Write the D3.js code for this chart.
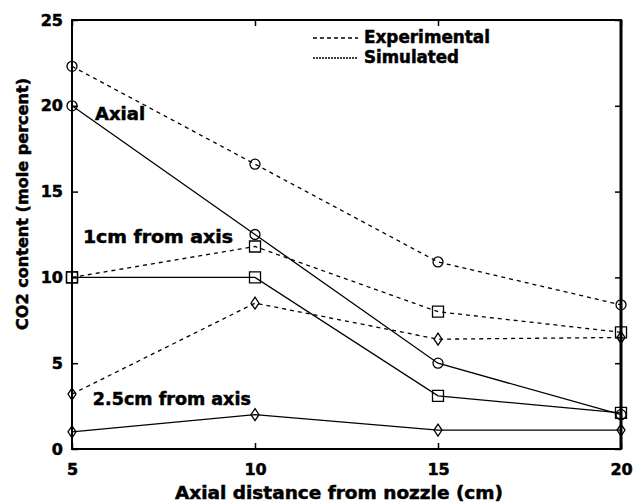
<!DOCTYPE html>
<html>
<head>
<meta charset="utf-8">
<script src="https://cdn.jsdelivr.net/npm/d3@7"></script>
<style>
  html, body { margin: 0; padding: 0; background: #fff; }
  svg text { font-family: "DejaVu Sans", "Liberation Sans", Arial, sans-serif; font-weight: bold; fill: #000; stroke: #000; stroke-width: 0.5px; }
</style>
</head>
<body>
<svg id="chart" width="635" height="504"></svg>
<script>
// Axial positions (cm from nozzle)
const distances = [5, 10, 15, 20];

// CO2 content (mole percent) at each distance
const axialExperimental = [22.3, 16.6, 10.9, 8.4];
const axialSimulated    = [20.0, 12.5, 5.0, 2.0];
const oneCmExperimental = [10.0, 11.8, 8.0, 6.8];
const oneCmSimulated    = [10.0, 10.0, 3.1, 2.1];
const twoHalfCmExperimental = [3.2, 8.5, 6.4, 6.5];
const twoHalfCmSimulated    = [1.0, 2.0, 1.1, 1.1];

const xTicks = [5, 10, 15, 20];
const yTicks = [0, 5, 10, 15, 20, 25];

const series = [
  { values: axialExperimental,     marker: "circle",  dashed: true },
  { values: axialSimulated,        marker: "circle",  dashed: false },
  { values: oneCmExperimental,     marker: "square",  dashed: true },
  { values: oneCmSimulated,        marker: "square",  dashed: false },
  { values: twoHalfCmExperimental, marker: "diamond", dashed: true },
  { values: twoHalfCmSimulated,    marker: "diamond", dashed: false }
];

const width = 635, height = 504;
const margin = { top: 20, right: 14, bottom: 55, left: 72 };

const svg = d3.select("#chart");

const x = d3.scaleLinear().domain([5, 20]).range([margin.left, width - margin.right]);
const y = d3.scaleLinear().domain([0, 25]).range([height - margin.bottom, margin.top]);

const plotW = width - margin.left - margin.right;
const plotH = height - margin.top - margin.bottom;
const tickLen = 6;

// Inward ticks on all four sides
const axisBottom = d3.axisBottom(x).tickValues(xTicks).tickSizeInner(-tickLen).tickSizeOuter(0).tickPadding(15);
const axisTop = d3.axisTop(x).tickValues(xTicks).tickSizeInner(-tickLen).tickSizeOuter(0).tickFormat("");
const axisLeft = d3.axisLeft(y).tickValues(yTicks).tickSizeInner(-tickLen).tickSizeOuter(0).tickPadding(9);
const axisRight = d3.axisRight(y).tickValues(yTicks).tickSizeInner(-tickLen).tickSizeOuter(0).tickFormat("");

function styleAxis(g) {
  g.select(".domain").remove();
  g.selectAll(".tick line").attr("stroke", "#000").attr("stroke-width", 1.5);
  g.selectAll(".tick text").attr("font-size", 16).style("font-weight", "bold");
}

svg.append("g").attr("transform", `translate(0,${height - margin.bottom})`).call(axisBottom).call(styleAxis);
svg.append("g").attr("transform", `translate(0,${margin.top})`).call(axisTop).call(styleAxis);
svg.append("g").attr("transform", `translate(${margin.left},0)`).call(axisLeft).call(styleAxis);
svg.append("g").attr("transform", `translate(${width - margin.right},0)`).call(axisRight).call(styleAxis);

// Plot box
svg.append("rect")
  .attr("x", margin.left).attr("y", margin.top)
  .attr("width", plotW).attr("height", plotH)
  .attr("fill", "none").attr("stroke", "#000").attr("stroke-width", 2);
svg.append("line")
  .attr("x1", width - margin.right).attr("x2", width - margin.right)
  .attr("y1", margin.top).attr("y2", height - margin.bottom)
  .attr("stroke", "#000").attr("stroke-width", 3);

// Lines
const line = d3.line().x((d, i) => x(distances[i])).y(d => y(d));

svg.append("g").selectAll("path.series")
  .data(series)
  .join("path")
  .attr("class", "series")
  .attr("d", s => line(s.values))
  .attr("fill", "none")
  .attr("stroke", "#000")
  .attr("stroke-width", 1.3)
  .attr("stroke-dasharray", s => s.dashed ? "4,4" : null);

// Markers
const markerPath = {
  circle: d3.symbol().type(d3.symbolCircle).size(Math.PI * 5 * 5)(),
  square: "M-5.5,-5.5H5.5V5.5H-5.5Z",
  diamond: "M0,-6L4,0L0,6L-4,0Z"
};

series.forEach(s => {
  svg.append("g").selectAll("path")
    .data(s.values)
    .join("path")
    .attr("transform", (d, i) => `translate(${x(distances[i])},${y(d)})`)
    .attr("d", markerPath[s.marker])
    .attr("fill", "none")
    .attr("stroke", "#000")
    .attr("stroke-width", 1.3);
});

// Labels: fit text to a given width at a fixed size
function fitText(sel, w) {
  sel.attr("textLength", w).attr("lengthAdjust", "spacingAndGlyphs");
}

// Series annotations
const annotations = [
  { text: "Axial", xv: 5.63, yv: 19.15, w: 50 },
  { text: "1cm from axis", xv: 5.3, yv: 12.0, w: 150 },
  { text: "2.5cm from axis", xv: 5.57, yv: 2.55, w: 158 }
];
svg.append("g").selectAll("text")
  .data(annotations)
  .join("text")
  .attr("x", d => x(d.xv))
  .attr("y", d => y(d.yv))
  .attr("font-size", 17)
  .text(d => d.text)
  .each(function(d) { fitText(d3.select(this), d.w); });

// Legend
const legend = svg.append("g");
const legendItems = [
  { label: "Experimental", dash: "4,3", yPos: 38, w: 126 },
  { label: "Simulated", dash: "2,1", yPos: 58, w: 95 }
];
legendItems.forEach(item => {
  legend.append("line")
    .attr("x1", 313).attr("x2", 358)
    .attr("y1", item.yPos).attr("y2", item.yPos)
    .attr("stroke", "#000").attr("stroke-width", 1.3)
    .attr("stroke-dasharray", item.dash);
  legend.append("text")
    .attr("x", 364).attr("y", item.yPos + 4.5)
    .attr("font-size", 17)
    .text(item.label)
    .call(fitText, item.w);
});

// Axis titles
svg.append("text")
  .attr("x", 175).attr("y", 499)
  .attr("font-size", 17)
  .text("Axial distance from nozzle (cm)")
  .call(fitText, 328);

svg.append("text")
  .attr("transform", "translate(27.5,330) rotate(-90)")
  .attr("font-size", 16.5)
  .text("CO2 content (mole percent)")
  .call(fitText, 252);
</script>
</body>
</html>
